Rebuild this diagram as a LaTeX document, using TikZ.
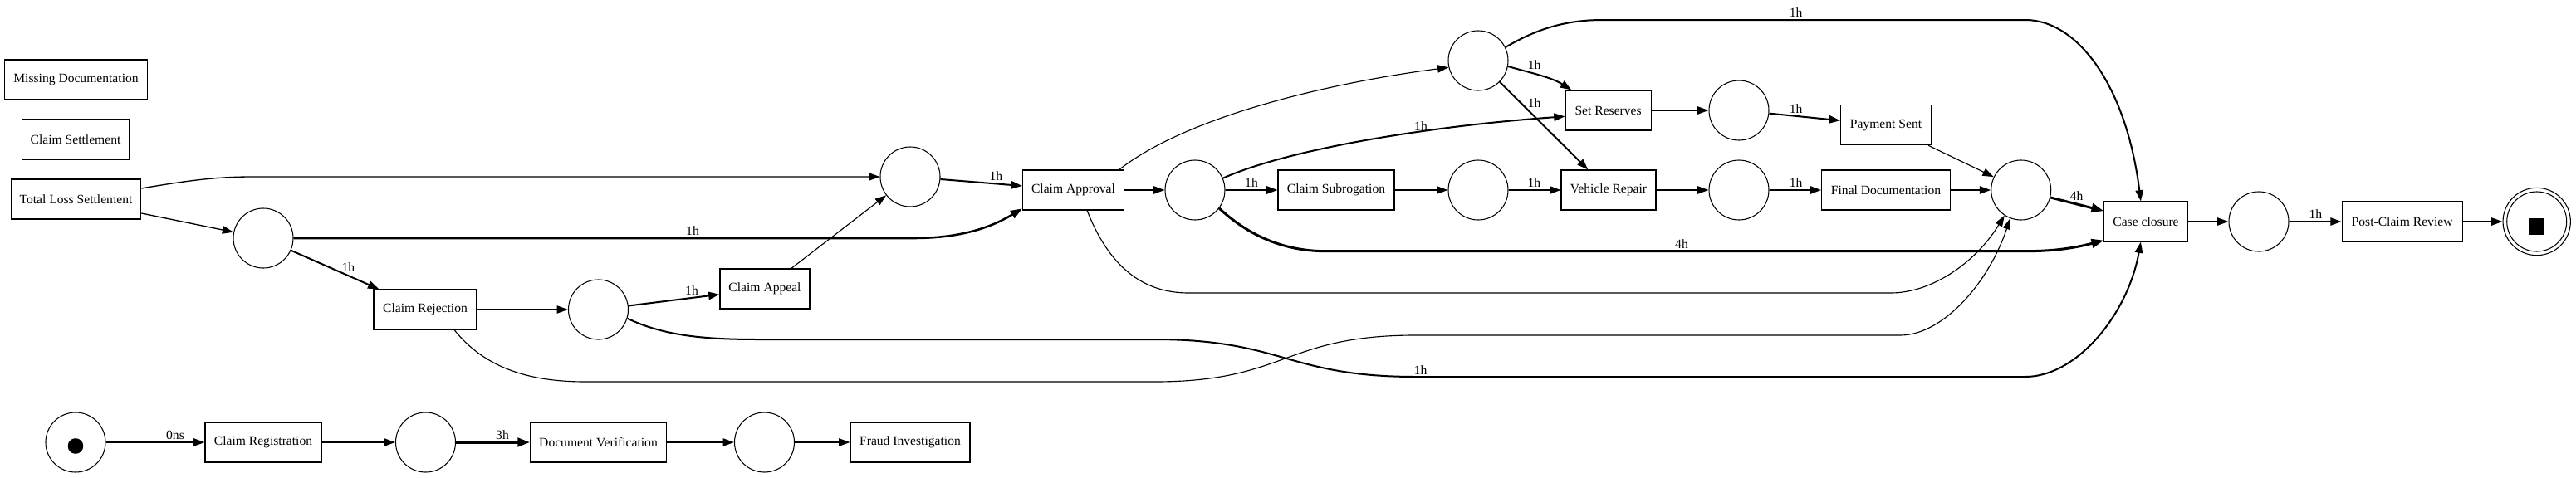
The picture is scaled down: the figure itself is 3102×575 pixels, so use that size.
\documentclass[tikz,border=0pt]{standalone}
\usepackage{fontspec}
\setmainfont{Liberation Serif}
\usetikzlibrary{arrows.meta,calc}
\begin{document}
\begin{tikzpicture}[x=0.75pt,y=-0.75pt,
  every node/.style={font=\fontsize{11.7}{14}\selectfont},
  trans/.style={draw, line width=0.8pt, rectangle, minimum height=36pt, inner sep=0pt},
  place/.style={draw, line width=0.8pt, circle, minimum size=54pt, inner sep=0pt},
  lbl/.style={inner sep=0pt},
  ebase/.style={-{Triangle[length=10pt,width=7pt]}, line width=1pt},
  ethin/.style={-{Triangle[length=10pt,width=7pt]}, line width=0.85pt},
  emed/.style={-{Triangle[length=10pt,width=7pt]}, line width=1.5pt},
  ebig/.style={-{Triangle[length=10.5pt,width=7.5pt]}, line width=1.9pt},
  ethick/.style={-{Triangle[length=11pt,width=8pt]}, line width=2.25pt},
]
\useasboundingbox (0,0) rectangle (3102,575);

% transitions
\node[trans, minimum width=129pt] (MD) at (91.5,96) {Missing Documentation};
\node[trans, minimum width=96.75pt] (CSet) at (91,168) {Claim Settlement};
\node[trans, minimum width=117.4pt] (TLS) at (91.5,240) {Total Loss Settlement};
\node[trans, minimum width=93pt] (CR) at (512,373) {Claim Rejection};
\node[trans, minimum width=81pt] (CAp) at (921,348) {Claim Appeal};
\node[trans, minimum width=105pt] (CReg) at (317,533) {Claim Registration};
\node[trans, minimum width=123pt] (DV) at (720.5,533) {Document Verification};
\node[trans, minimum width=108pt] (FI) at (1096,533) {Fraud Investigation};
\node[trans, minimum width=91.5pt] (CA) at (1292.5,229) {Claim Approval};
\node[trans, minimum width=105pt] (CS) at (1609,229) {Claim Subrogation};
\node[trans, minimum width=85.5pt] (VR) at (1937,229) {Vehicle Repair};
\node[trans, minimum width=77.25pt] (SR) at (1936.6,133) {Set Reserves};
\node[trans, minimum width=81.75pt] (PS) at (2271,150.7) {Payment Sent};
\node[trans, minimum width=116pt] (FD) at (2271,229) {Final Documentation};
\node[trans, minimum width=75.5pt] (CC) at (2584,267) {Case closure};
\node[trans, minimum width=108.75pt] (PCR) at (2892.6,267) {Post-Claim Review};

% places
\node[place] (start) at (91,533) {};
\node[circle, fill, minimum size=14pt, inner sep=0pt] (tok) at (91,537.5) {};
\node[place] (pReg) at (512.5,533) {};
\node[place] (pDV) at (920.5,533) {};
\node[place] (p2) at (317,287) {};
\node[place] (p3) at (720.5,373) {};
\node[place] (pBCA) at (1096,213) {};
\node[place] (pCA) at (1439,229) {};
\node[place] (pCS) at (1780,229) {};
\node[place] (top) at (1780,73) {};
\node[place] (pSR) at (2094,133) {};
\node[place] (pVR) at (2094,229) {};
\node[place] (merge) at (2433.7,229) {};
\node[place] (pCC) at (2720,267) {};
\node[circle, draw, line width=0.8pt, minimum size=61pt, inner sep=0pt] (endo) at (3054.7,267) {};
\node[place] (endi) at (3054.7,267) {};
\node[fill, minimum size=14.5pt, inner sep=0pt] (sq) at (3054.7,273) {};

% arcs
\draw[ebase] (start) -- (CReg);
\draw[ebase] (CReg) -- (pReg);
\draw[ethick] (pReg) -- (DV);
\draw[ebase] (DV) -- (pDV);
\draw[ebase] (pDV) -- (FI);
\draw[ebase] ($(TLS.east)+(0,-13)$) .. controls (235,216) and (265,213) .. (305,213) -- (pBCA);
\draw[ebase] ($(TLS.east)+(0,17)$) -- (p2);
\draw[ebig] (p2) -- (1100,287) .. controls (1165,287) and (1200,270) .. (CA.200);
\draw[emed] (p2) -- (CR);
\draw[ebase] (CR) -- (p3);
\draw[emed] (p3) -- (CAp);
\draw[ethin] (CAp) -- (pBCA);
\draw[emed] (pBCA) -- (CA);
\draw[ebase] (CA) -- (pCA);
\draw[ethin] (CA.24) .. controls (1430,140) and (1600,100) .. (top.193);
\draw[ethin] (CA.-56) .. controls (1335,320) and (1375,353) .. (1431,353) -- (2277,353) .. controls (2325,353) and (2378,318) .. (merge.237);
\draw[ethin] (CR.-35) .. controls (585,445) and (640,460) .. (705,460) -- (1390,460) .. controls (1550,460) and (1545,404) .. (1705,404) -- (2288,404) .. controls (2340,404) and (2395,340) .. (merge.249);
\draw[emed] (p3.-17) .. controls (800,405) and (850,409) .. (912,409) -- (1390,409) .. controls (1545,409) and (1550,454) .. (1705,454) -- (2439,454) .. controls (2500,454) and (2562,380) .. (CC.256);
\draw[emed] (pCA) -- (CS);
\draw[emed] (pCA.23) .. controls (1550,180) and (1720,152) .. (SR.188);
\draw[ethick] (pCA.-37) .. controls (1510,290) and (1555,302.7) .. (1597,302.7) -- (2439,302.7) .. controls (2480,302.7) and (2505,297) .. (CC.204);
\draw[ebase] (CS) -- (pCS);
\draw[emed] (pCS) -- (VR);
\draw[emed] (top.-11) .. controls (1844,88) and (1868,93) .. (SR.151);
\draw[emed] (top) -- (VR);
\draw[emed] (top.26) .. controls (1850,35) and (1885,24) .. (1930,24) -- (2439,24) .. controls (2500,24) and (2560,100) .. (CC.104);
\draw[ebase] (SR) -- (pSR);
\draw[emed] (pSR) -- (PS);
\draw[ebase] (VR) -- (pVR);
\draw[emed] (pVR) -- (FD);
\draw[ethin] (PS) -- (merge);
\draw[ebase] (FD) -- (merge);
\draw[ethick] (merge) -- (CC);
\draw[ebase] (CC) -- (pCC);
\draw[emed] (pCC) -- (PCR);
\draw[ebase] (PCR) -- (endo);

% arc labels
\node[lbl] (l01) at (211,524) {0ns};
\node[lbl] (l02) at (605,524) {3h};
\node[lbl] (l03) at (834,278) {1h};
\node[lbl] (l04) at (419.3,321.7) {1h};
\node[lbl] (l05) at (833,350) {1h};
\node[lbl] (l06) at (1199.3,212.3) {1h};
\node[lbl] (l07) at (1507,220) {1h};
\node[lbl] (l08) at (1711,152.3) {1h};
\node[lbl] (l09) at (1847.3,220) {1h};
\node[lbl] (l10) at (1847.7,78.3) {1h};
\node[lbl] (l11) at (1847.7,124) {1h};
\node[lbl] (l12) at (2162.7,15) {1h};
\node[lbl] (l13) at (2162.7,131) {1h};
\node[lbl] (l14) at (2162.7,220) {1h};
\node[lbl] (l15) at (2500.7,236) {4h};
\node[lbl] (l16) at (2025,294) {4h};
\node[lbl] (l17) at (2788.3,258.3) {1h};
\node[lbl] (l18) at (1710.6,445.7) {1h};
\end{tikzpicture}
\end{document}
